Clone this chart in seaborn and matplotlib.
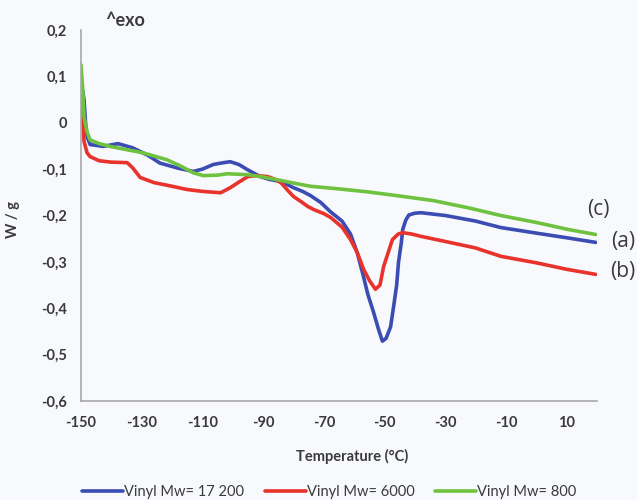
import matplotlib
matplotlib.use("Agg")
import matplotlib.pyplot as plt
from matplotlib.ticker import FuncFormatter, MultipleLocator
import numpy as np
import pandas as pd
import seaborn as sns

# DSC traces (temperature in degC, heat flow in W/g)
temp_a = [-150, -149.5, -149, -148.5, -148, -147, -142.7, -137.8, -133, -128, -124, -118, -113,
          -110, -106.4, -103, -100.8, -98, -95.2, -91, -88, -84, -80, -77, -74.4, -71, -67.8,
          -64, -61.2, -59, -57, -55.5, -53.6, -52, -50.7, -49.5, -48, -47, -46, -45.4, -44.5,
          -44, -43, -42, -40, -38, -30, -20, -11.7, 0, 10, 19.6]
w_a = [0.05, 0.07, 0.05, 0.0, -0.03, -0.047, -0.051, -0.045, -0.054, -0.07, -0.087, -0.098, -0.105,
       -0.1, -0.09, -0.086, -0.084, -0.09, -0.101, -0.116, -0.122, -0.127, -0.14, -0.148, -0.157,
       -0.172, -0.192, -0.212, -0.24, -0.28, -0.33, -0.37, -0.409, -0.445, -0.471, -0.465, -0.44,
       -0.396, -0.35, -0.301, -0.26, -0.23, -0.21, -0.199, -0.195, -0.194, -0.2, -0.212, -0.226,
       -0.238, -0.248, -0.258]

temp_b = [-150, -149.6, -149, -148, -147, -144, -140, -134.8, -133, -130.5, -126, -120, -115,
          -110, -104, -100.8, -98, -95, -92, -88.6, -86, -84, -82, -80, -77.5, -75.4, -73.4,
          -70, -67.8, -64, -61.2, -59, -56.9, -55, -53, -51.5, -50.3, -48.8, -47.4, -45.5, -44,
          -41, -38, -30, -20, -11.7, 0, 10, 19.6]
w_b = [0.055, 0.02, -0.04, -0.065, -0.073, -0.082, -0.085, -0.086, -0.097, -0.118, -0.129, -0.137,
       -0.144, -0.148, -0.151, -0.14, -0.128, -0.116, -0.114, -0.116, -0.122, -0.13, -0.145, -0.159,
       -0.17, -0.18, -0.187, -0.196, -0.204, -0.225, -0.252, -0.28, -0.316, -0.34, -0.359, -0.35,
       -0.31, -0.28, -0.252, -0.24, -0.237, -0.24, -0.245, -0.256, -0.27, -0.288, -0.302, -0.316,
       -0.327]

temp_c = [-150, -149.5, -149, -148, -147, -144, -140.4, -135, -129.5, -121.6, -117, -113,
          -109.7, -105, -101.8, -95.2, -90, -85.3, -80, -74.4, -66, -55.6, -45, -33.8, -22,
          -11.7, 0, 10.4, 19.6]
w_c = [0.125, 0.08, 0.013, -0.02, -0.037, -0.045, -0.051, -0.058, -0.065, -0.08, -0.094, -0.108,
       -0.114, -0.113, -0.11, -0.112, -0.117, -0.123, -0.13, -0.137, -0.142, -0.149, -0.158, -0.168,
       -0.184, -0.2, -0.215, -0.23, -0.241]

series_names = ["Vinyl Mw= 17 200", "Vinyl Mw= 6000", "Vinyl Mw= 800"]
curve_tags = ["(a)", "(b)", "(c)"]
x_ticks = [-150, -130, -110, -90, -70, -50, -30, -10, 10]
y_ticks = [0.2, 0.1, 0.0, -0.1, -0.2, -0.3, -0.4, -0.5, -0.6]

df = pd.concat([
    pd.DataFrame({"T": temp_a, "W": w_a, "series": series_names[0]}),
    pd.DataFrame({"T": temp_b, "W": w_b, "series": series_names[1]}),
    pd.DataFrame({"T": temp_c, "W": w_c, "series": series_names[2]}),
])

sns.set_style("white")
plt.rcParams["font.family"] = ["Lato", "DejaVu Sans"]
plt.rcParams["axes.unicode_minus"] = False

bg = "#f8f9fc"
txt = "#3a3a3a"
palette = {series_names[0]: "#3b4cb3", series_names[1]: "#e8322b", series_names[2]: "#6fc23f"}

fig = plt.figure(figsize=(6.37, 5.0), dpi=100, facecolor=bg)
ax = fig.add_axes([81 / 637, 1 - 401 / 500, 516 / 637, 371 / 500], facecolor=bg)

sns.lineplot(data=df, x="T", y="W", hue="series", palette=palette, sort=False,
             estimator=None, lw=2.6, ax=ax, legend=False)

ax.set_xlim(-150, 20)
ax.set_ylim(-0.6, 0.2)
ax.set_xticks(x_ticks)
ax.xaxis.set_minor_locator(MultipleLocator(10))
ax.set_yticks(y_ticks)
ax.yaxis.set_major_formatter(FuncFormatter(
    lambda v, p: "0" if abs(v) < 1e-9 else f"{v:.1f}".replace(".", ",")))

for side in ["top", "right"]:
    ax.spines[side].set_visible(False)
for side in ["left", "bottom"]:
    ax.spines[side].set_color("#a8a8a8")
    ax.spines[side].set_linewidth(1.2)

ax.tick_params(axis="x", which="both", direction="inout", length=6, color="#a8a8a8",
               labelsize=10.5, labelcolor=txt, pad=8)
ax.tick_params(axis="y", length=0, labelsize=10.5, labelcolor=txt, pad=10)
for lab in ax.get_xticklabels() + ax.get_yticklabels():
    lab.set_fontweight("bold")

ax.set_xlabel("Temperature (°C)", fontsize=10.5, fontweight="bold", color=txt)
ax.xaxis.set_label_coords((352 - 81) / 516, -0.13)
ax.set_ylabel("W / g", fontsize=10.5, fontweight="bold", color=txt)
ax.yaxis.set_label_coords(-0.118, 0.49)

fig.text(125 / 637, 1 - 21 / 500, "^exo", fontsize=13, fontweight="bold", color=txt,
         ha="center", va="center")

# curve tags at the right end of each trace
tag_pos = [(623, 242), (623, 271), (598, 210)]
for tag, (px, py) in zip(curve_tags, tag_pos):
    fig.text(px / 637, 1 - py / 500, tag, fontsize=15, color=txt, ha="center", va="center",
             family=["Open Sans", "DejaVu Sans"])

handles = [plt.Line2D([], [], color=palette[n], lw=2.6) for n in series_names]
fig.legend(handles, series_names, loc="center", bbox_to_anchor=(0.517, 1 - 492 / 500),
           ncol=3, frameon=False, fontsize=10.5, handlelength=2.8, handletextpad=0.1,
           columnspacing=1.4, labelcolor=txt)

fig.savefig("out.png", dpi=100, facecolor=bg)
